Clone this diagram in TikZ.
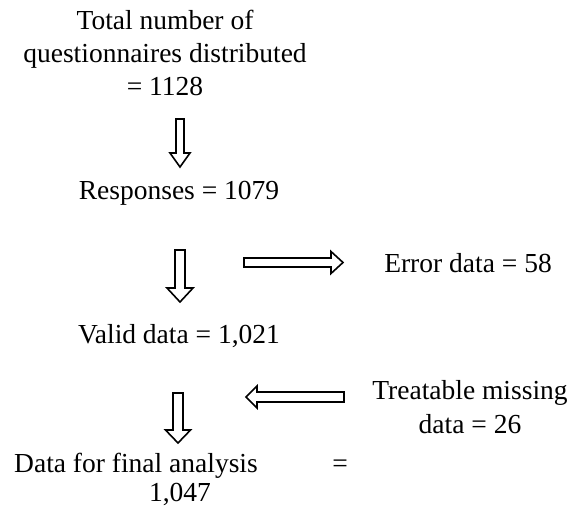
\documentclass[tikz,border=0pt]{standalone}
\usepackage{fontspec}
\setmainfont{Liberation Serif}
\tikzset{
  lbl/.style={anchor=base, inner sep=0pt, font=\fontsize{27.5bp}{33bp}\selectfont},
  blockarrow/.style={draw=black, fill=white, line width=1.6bp, line join=miter}
}
\begin{document}
\begin{tikzpicture}[x=1bp,y=-1bp]
\useasboundingbox (0,0) rectangle (572,508);
% texts
\node[lbl] (t1) at (165,30) {Total number of};
\node[lbl] (t2) at (165,63) {questionnaires distributed};
\node[lbl] (t3) at (165,96) {= 1128};
\node[lbl] (resp) at (179,200) {Responses = 1079};
\node[lbl] (err) at (468,272.5) {Error data = 58};
\node[lbl] (valid) at (179,343) {Valid data = 1,021};
\node[lbl] (treat1) at (470,399) {Treatable missing};
\node[lbl] (treat2) at (470,433) {data = 26};
\node[lbl] (final1) at (136,472) {Data for final analysis};
\node[lbl] (eq) at (340,472) {=};
\node[lbl] (final2) at (180,501) {1,047};
% down arrows
\draw[blockarrow] (176,119) -- (184,119) -- (184,153) -- (190,153) -- (180,167) -- (170,153) -- (176,153) -- cycle;
\draw[blockarrow] (175,250) -- (185,250) -- (185,288) -- (193,288) -- (180,302) -- (167,288) -- (175,288) -- cycle;
\draw[blockarrow] (173,393) -- (183,393) -- (183,430) -- (190.5,430) -- (178,443) -- (165.5,430) -- (173,430) -- cycle;
% right arrow
\draw[blockarrow] (244,258) -- (331,258) -- (331,251.5) -- (343,262.5) -- (331,273.5) -- (331,267) -- (244,267) -- cycle;
% left arrow
\draw[blockarrow] (344,392) -- (257,392) -- (257,386) -- (246,397) -- (257,408) -- (257,402) -- (344,402) -- cycle;
\end{tikzpicture}
\end{document}
